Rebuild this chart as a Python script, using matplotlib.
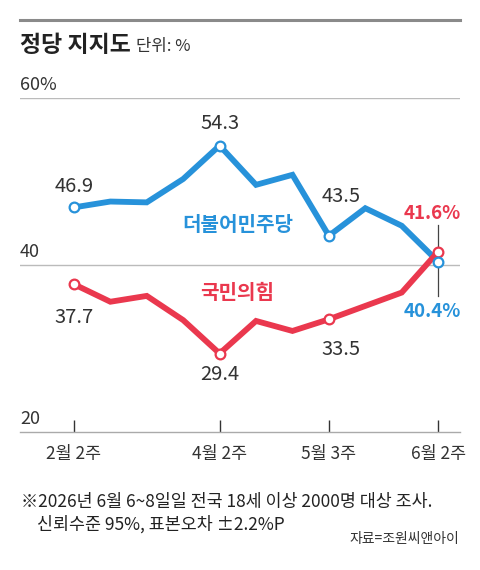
import matplotlib
matplotlib.use("Agg")
import matplotlib.pyplot as plt

KR = "Noto Sans CJK KR"
NUM = [KR, "DejaVu Sans"]
plt.rcParams["font.family"] = [KR, "DejaVu Sans"]

# ---- data ----
weeks = ["2월 2주", "", "", "", "4월 2주", "", "", "5월 3주", "", "", "6월 2주"]
tick_idx = [0, 4, 7, 10]
democratic = [46.9, 47.6, 47.5, 50.3, 54.3, 49.6, 50.8, 43.5, 46.8, 44.7, 40.4]
ppp = [37.7, 35.6, 36.3, 33.4, 29.4, 33.3, 32.1, 33.5, 35.1, 36.7, 41.6]
marked = [0, 4, 7, 10]
yticks = [20, 40, 60]
ytick_labels = ["20", "40", "60%"]

BLUE = "#2792da"
RED = "#ea384e"
W, H = 480, 570

fig = plt.figure(figsize=(W / 100, H / 100), dpi=100)
fig.patch.set_facecolor("white")

def px(x, y):
    return x / W, 1 - y / H

ax = fig.add_axes([20 / W, 1 - 432 / H, 440 / W, 334 / H])
x = list(range(len(weeks)))
ax.set_xlim(-1.48, 10.6)
ax.set_ylim(20, 60)
ax.set_facecolor("none")
for s in ["top", "left", "right"]:
    ax.spines[s].set_visible(False)
ax.spines["bottom"].set_color("#aaaaaa")
ax.spines["bottom"].set_linewidth(1)
ax.set_yticks([])
for v in yticks[1:]:
    ax.axhline(v, color="#bbbbbb", lw=1, zorder=1)
for v, lab in zip(yticks, ytick_labels):
    ax.annotate(lab, xy=(0, v), xycoords=("axes fraction", "data"),
                xytext=(0, 4), textcoords="offset pixels", ha="left", va="bottom",
                fontsize=13, color="#333333", family=NUM)

ax.set_xticks(tick_idx)
ax.set_xticklabels([weeks[i] for i in tick_idx], fontsize=12.5, color="#333333")
ax.tick_params(axis="x", direction="in", length=8.5, width=1, color="#333333", pad=9)

# connector line at last point
ax.plot([10, 10], [36.3, 44.8], color="#444444", lw=0.9, zorder=2)

ax.plot(x, democratic, color=BLUE, lw=4.2, solid_joinstyle="miter", zorder=3)
ax.plot(x, ppp, color=RED, lw=4.2, solid_joinstyle="miter", zorder=4)
ax.plot([x[i] for i in marked], [democratic[i] for i in marked], ls="none", marker="o",
        ms=7, mfc="white", mec=BLUE, mew=1.6, zorder=6)
ax.plot([x[i] for i in marked], [ppp[i] for i in marked], ls="none", marker="o",
        ms=7, mfc="white", mec=RED, mew=1.6, zorder=5)

def lab(i, series, text, dx, dy, color="#333333", bold=False, size=14.5):
    ax.annotate(text, xy=(i, series[i]), xytext=(dx, dy), textcoords="offset pixels",
                ha="center", va="center", fontsize=size, color=color,
                fontweight="bold" if bold else "normal", family=NUM, zorder=7)

lab(0, democratic, f"{democratic[0]}", 0, 21)
lab(4, democratic, f"{democratic[4]}", 0, 22)
lab(7, democratic, f"{democratic[7]}", 12, 39)
lab(10, ppp, f"{ppp[10]}%", -6, 38, RED, True, 13.5)
lab(10, democratic, f"{democratic[10]}%", -6, -50, BLUE, True, 13.5)
lab(0, ppp, f"{ppp[0]}", 0, -33)
lab(4, ppp, f"{ppp[4]}", 0, -21)
lab(7, ppp, f"{ppp[7]}", 12, -30)

ax.text(4.5, 44.8, "더불어민주당", color=BLUE, fontsize=14.5, fontweight="semibold",
        ha="center", va="center", zorder=7)
ax.text(4.48, 36.65, "국민의힘", color=RED, fontsize=14.5, fontweight="semibold",
        ha="center", va="center", zorder=7)

# header
fig.add_artist(plt.Line2D([20 / W, 460 / W], [1 - 20 / H, 1 - 20 / H], color="#8a8a8a", lw=2.2))
fig.text(*px(20, 46), "정당 지지도", fontsize=16.5, fontweight="bold", color="#222222",
         ha="left", va="center")
fig.text(*px(136, 47), "단위: %", fontsize=12, color="#333333", ha="left", va="center")

# footer
fig.text(*px(21, 502), "※2026년 6월 6~8일일 전국 18세 이상 2000명 대상 조사.", fontsize=12.5,
         color="#222222", ha="left", va="center")
fig.text(*px(37, 524), "신뢰수준 95%, 표본오차 ±2.2%P", fontsize=12.5,
         color="#222222", ha="left", va="center")
fig.text(*px(459, 539), "자료=조원씨앤아이", fontsize=10, color="#333333",
         ha="right", va="center")

fig.savefig("out.png", dpi=100, facecolor="white")
